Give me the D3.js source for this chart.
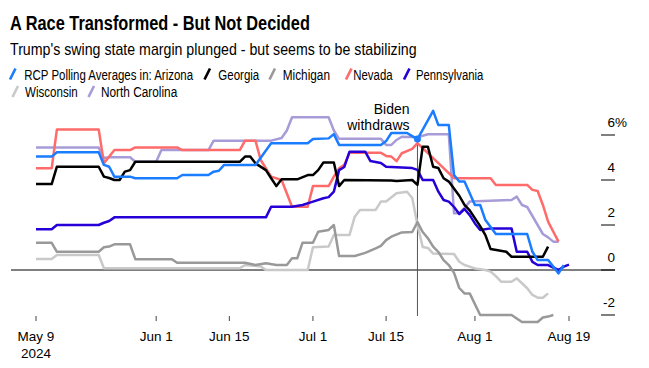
<!DOCTYPE html>
<html><head><meta charset="utf-8">
<script src="https://cdn.jsdelivr.net/npm/d3@7"></script>
<style>
body{margin:0;background:#fff;}
svg{display:block;font-family:"Liberation Sans",Arial,sans-serif;}
</style>
</head><body>
<svg id="chart" width="649" height="368"></svg>
<script>
// ---------- DATA ----------
const startDate = "2024-05-09";           // day 0 of every series
const endDate = "2024-08-19";
const withdrawDate = "2024-07-21";
const states = ["Arizona","Georgia","Michigan","Nevada","Pennsylvania","Wisconsin","North Carolina"];
const stateColors = ["#1a7cff","#000000","#999999","#ff6b6b","#2600d6","#c9c9c9","#a79cd8"];
// [days since May 9, margin %]
const arizona = [[0,5.04],[3,5.04],[4,5.23],[12,5.23],[13,4.67],[14,4.59],[15,4.15],[18,4.15],[19,4.08],[27,4.08],[28,4.22],[33,4.22],[34,4.37],[35,4.41],[36,4.67],[42,4.67],[45,5.63],[52,5.63],[53,5.82],[56,5.85],[57,6.04],[58,5.56],[66,5.56],[67,5.73],[68,6.09],[71,6.09],[72,5.95],[73,5.82],[76,7.07],[77,6.44],[79,6.44],[80,4.22],[81,3.93],[82,3.93],[84,2.89],[85,2.89],[86,2.22],[88,1.6],[94,1.6],[95,0.81],[96,0.44],[98,0.44],[100,-0.15],[101,0.22]];
const georgia = [[0,3.82],[3,3.82],[4,4.59],[12,4.59],[13,4.15],[14,4.09],[15,4.0],[16,4.0],[17,4.37],[18,4.44],[19,4.81],[39,4.81],[40,5.04],[41,5.04],[42,4.74],[44,4.44],[45,4.08],[46,3.73],[47,4.03],[50,4.03],[52,4.22],[53,4.22],[54,4.44],[55,4.78],[57,4.78],[58,3.73],[59,4.0],[68,3.98],[69,3.96],[72,4.0],[73,3.78],[74,5.48],[75,5.48],[76,4.59],[77,4.53],[78,4.08],[79,3.93],[81,3.3],[82,2.89],[83,2.65],[85,1.95],[86,1.55],[87,0.93],[90,0.81],[91,0.59],[97,0.59],[98,1.04]];
const michigan = [[0,1.21],[3,1.21],[4,0.81],[12,0.81],[13,1.01],[14,1.04],[15,1.14],[18,1.14],[19,0.48],[26,0.48],[27,0.32],[40,0.32],[42,0.22],[44,0.3],[46,0.22],[48,0.22],[49,0.52],[50,0.52],[51,1.21],[53,1.21],[54,1.7],[56,1.78],[57,2.0],[58,0.62],[61,0.62],[63,0.76],[65,0.96],[66,1.07],[67,1.33],[68,1.48],[70,1.67],[72,1.69],[73,2.13],[74,1.69],[75,1.41],[76,1.04],[77,0.8],[78,0.44],[79,0.22],[80,-0.13],[81,-0.8],[82,-1.04],[83,-1.04],[85,-2.0],[91,-2.0],[93,-2.31],[96,-2.31],[97,-2.11],[98,-2.07],[99,-2.0]];
const nevada = [[0,4.52],[3,4.52],[4,6.25],[12,6.25],[13,4.74],[15,5.33],[18,5.33],[19,5.45],[27,5.45],[28,5.33],[39,5.33],[40,5.75],[42,5.75],[43,4.89],[45,4.15],[47,4.0],[49,2.81],[52,2.81],[53,3.73],[56,3.73],[57,4.15],[58,4.52],[59,4.67],[60,5.21],[66,5.21],[67,5.07],[68,5.04],[69,4.84],[70,5.19],[72,5.38],[73,5.64],[80,4.08],[87,4.08],[88,3.78],[94,3.78],[95,3.56],[96,3.51],[97,2.89],[98,2.15],[99,1.7],[100,1.26]];
const pennsylvania = [[0,1.81],[3,1.81],[4,2.0],[12,2.0],[13,2.1],[14,2.18],[15,2.34],[44,2.34],[45,2.81],[49,2.81],[51,2.89],[53,3.04],[55,3.19],[56,3.24],[57,3.48],[58,4.44],[59,4.58],[60,5.26],[63,5.26],[64,4.84],[66,4.76],[67,4.59],[72,4.53],[73,4.45],[74,4.0],[76,4.0],[77,3.48],[78,3.11],[79,3.04],[80,2.8],[81,2.49],[82,2.71],[83,2.44],[84,2.07],[85,1.78],[87,1.85],[91,1.85],[92,0.81],[94,0.81],[95,0.36],[96,0.22],[98,0.22],[100,0.0],[101,0.15],[102,0.24]];
const wisconsin = [[0,0.49],[3,0.49],[4,0.67],[12,0.67],[13,0.08],[39,0.08],[40,0.22],[43,0.16],[44,0.0],[52,0.0],[53,1.01],[56,1.04],[57,1.56],[60,1.56],[61,2.37],[62,2.67],[65,2.67],[66,3.04],[67,3.04],[69,3.41],[71,3.48],[72,3.2],[73,2.0],[74,1.02],[75,0.98],[76,0.73],[80,0.71],[81,0.37],[82,0.22],[84,0.07],[86,0.0],[87,-0.07],[88,-0.27],[89,-0.52],[91,-0.52],[92,-0.37],[93,-0.59],[94,-0.81],[95,-1.11],[96,-1.23],[97,-1.23],[98,-1.04]];
const northCarolina = [[0,5.44],[12,5.44],[13,4.98],[14,5.01],[18,5.01],[19,4.81],[23,4.81],[24,5.33],[33,5.33],[34,5.75],[45,5.75],[47,5.87],[48,6.2],[49,6.79],[56,6.79],[57,6.2],[58,5.83],[66,5.83],[67,5.56],[68,5.56],[69,5.78],[70,5.92],[73,5.9],[75,6.03],[79,6.03],[80,2.52],[81,2.52],[82,2.76],[83,3.04],[91,3.11],[92,3.26],[93,2.89],[94,2.8],[95,2.4],[96,2.0],[97,1.6],[98,1.45],[99,1.26],[100,1.26]];
const seriesData = [arizona, georgia, michigan, nevada, pennsylvania, wisconsin, northCarolina];
const drawOrder = [5, 2, 6, 3, 4, 1, 0];
const xTickDates = ["2024-05-09","2024-06-01","2024-06-15","2024-07-01","2024-07-15","2024-08-01","2024-08-19"];
const xTickLabels = ["May 9","Jun 1","Jun 15","Jul 1","Jul 15","Aug 1","Aug 19"];
const yTicks = [-2, 0, 2, 4, 6];
const titleText = "A Race Transformed - But Not Decided";
const subtitleText = "Trump's swing state margin plunged - but seems to be stabilizing";
const legendLabels = ["RCP Polling Averages in: Arizona","Georgia","Michigan","Nevada","Pennsylvania","Wisconsin","North Carolina"];
const annotationLines = ["Biden","withdraws"];

// ---------- DRAW ----------
const svg = d3.select("#chart");
const parse = d3.utcParse("%Y-%m-%d");
const d0 = parse(startDate);
const x = d3.scaleUtc().domain([d0, parse(endDate)]).range([36, 569]);
const y = d3.scaleLinear().domain([-2, 6]).range([315, 135]);

// text squeezed horizontally to a target width (narrow newsroom face)
function fitText(tx, ty, width, size, weight, str) {
  const t = svg.append("text").attr("x", 0).attr("y", 0).attr("font-size", size)
    .attr("font-weight", weight).attr("fill", "#000").text(str);
  const natural = t.node().getComputedTextLength();
  t.attr("transform", `translate(${tx},${ty}) scale(${width / natural},1)`);
  return t;
}

// Title / subtitle
fitText(10, 29.5, 300, 19.5, "bold", titleText);
fitText(10, 55, 407, 16, "normal", subtitleText);

// Legend
const legendLayout = [
  {sx: 9.5, tx: 24.3, w: 169, row: 0},
  {sx: 204, tx: 218.3, w: 41, row: 0},
  {sx: 269, tx: 282.7, w: 47.3, row: 0},
  {sx: 345.5, tx: 353.3, w: 39.3, row: 0},
  {sx: 403.5, tx: 416, w: 67.3, row: 0},
  {sx: 12, tx: 25, w: 52.7, row: 1},
  {sx: 88, tx: 101, w: 76.3, row: 1}
];
const rowBase = [79.5, 97];
legendLayout.forEach((L, i) => {
  const b = rowBase[L.row];
  svg.append("line").attr("x1", L.sx + 0.5).attr("y1", b).attr("x2", L.sx + 6).attr("y2", b - 11)
    .attr("stroke", stateColors[i]).attr("stroke-width", 2.6);
  fitText(L.tx, b, L.w, 14.5, "normal", legendLabels[i]);
});

// Zero baseline
svg.append("line").attr("x1", 11).attr("x2", 615).attr("y1", y(0)).attr("y2", y(0))
  .attr("stroke", "#000").attr("stroke-width", 1);

// Right axis ticks and labels
yTicks.forEach(t => {
  svg.append("line").attr("x1", 601).attr("x2", 615).attr("y1", y(t)).attr("y2", y(t))
    .attr("stroke", "#000").attr("stroke-width", 1);
  svg.append("text").attr("x", 615).attr("y", y(t) - 8.3).attr("text-anchor", "end")
    .attr("font-size", 13.5).attr("fill", "#000").text(t);
  if (t === 6) {
    svg.append("text").attr("x", 615).attr("y", y(t) - 8.3).attr("font-size", 13.5).attr("fill", "#000").text("%");
  }
});

// X axis ticks and labels
xTickDates.forEach((ds, i) => {
  const xx = x(parse(ds));
  svg.append("line").attr("x1", xx).attr("x2", xx).attr("y1", 316).attr("y2", 321)
    .attr("stroke", "#444").attr("stroke-width", 1);
  svg.append("text").attr("x", xx).attr("y", 340.5).attr("text-anchor", "middle")
    .attr("font-size", 13.5).attr("fill", "#000").text(xTickLabels[i]);
});
svg.append("text").attr("x", x(parse(xTickDates[0]))).attr("y", 358).attr("text-anchor", "middle")
  .attr("font-size", 13.5).attr("fill", "#000").text("2024");

// Withdraw line
const wd = parse(withdrawDate);
const wdDay = d3.utcDay.count(d0, wd);
const azAt = arizona.find(p => p[0] === wdDay)[1];
svg.append("line").attr("x1", x(wd)).attr("x2", x(wd)).attr("y1", y(azAt)).attr("y2", 316)
  .attr("stroke", "#555").attr("stroke-width", 1);

// Lines
const line = d3.line()
  .x(d => x(d3.utcDay.offset(d0, d[0])))
  .y(d => y(d[1]));
drawOrder.forEach(i => {
  svg.append("path").datum(seriesData[i]).attr("d", line)
    .attr("fill", "none").attr("stroke", stateColors[i]).attr("stroke-width", 2.5)
    .attr("stroke-linejoin", "round").attr("stroke-linecap", "butt");
});

// Marker dot
svg.append("circle").attr("cx", x(wd)).attr("cy", y(azAt)).attr("r", 3.5).attr("fill", stateColors[0]);

// Annotation
annotationLines.forEach((t, i) => {
  svg.append("text").attr("x", 409.5).attr("y", 113.5 + i * 16).attr("text-anchor", "end")
    .attr("font-size", 14).attr("fill", "#000").text(t);
});
</script>
</body></html>
